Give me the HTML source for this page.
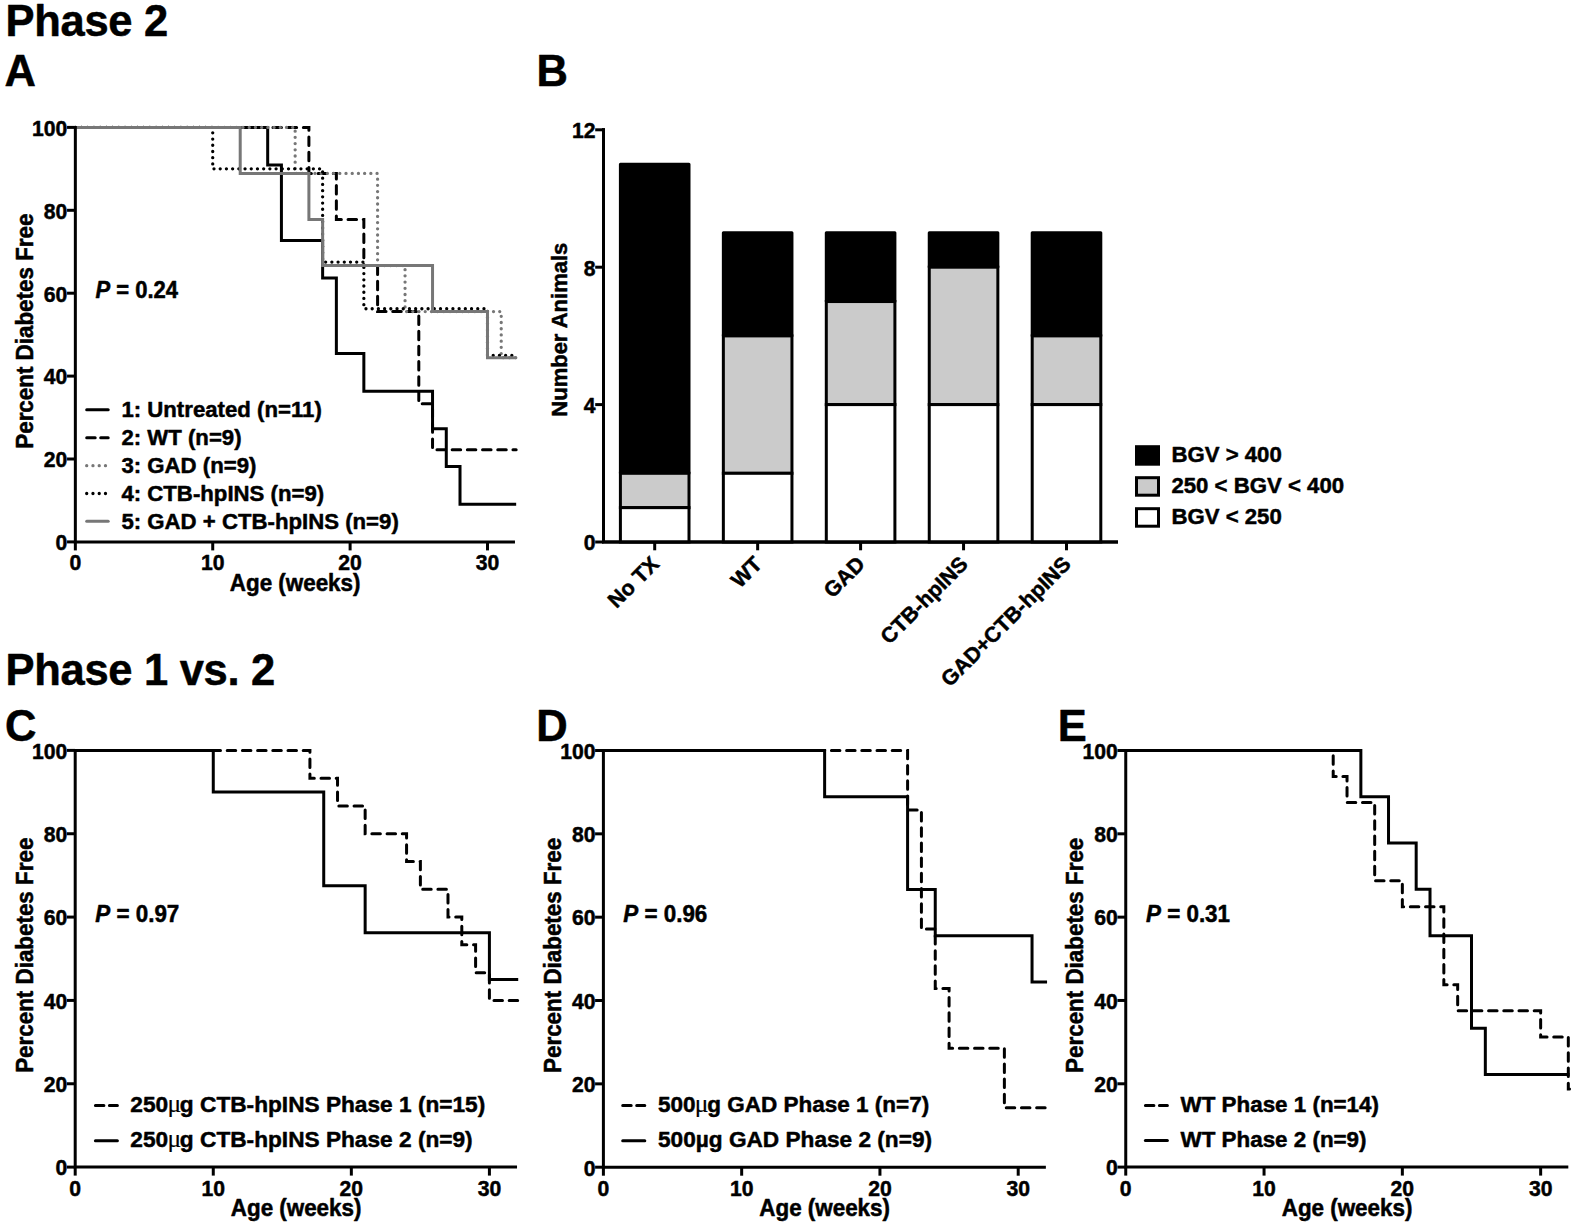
<!DOCTYPE html>
<html lang="en"><head><meta charset="utf-8"><title>Figure</title>
<style>
html,body{margin:0;padding:0;background:#fff;}
svg{display:block;}
svg text{font-family:"Liberation Sans", sans-serif;font-weight:bold;fill:#000;stroke:#000;stroke-width:0.5px;stroke-linejoin:round;}
</style></head>
<body>
<svg width="1575" height="1227" viewBox="0 0 1575 1227">
<rect x="0" y="0" width="1575" height="1227" fill="#fff"/>
<text x="5.6" y="36.2" font-size="43.5" text-anchor="start" letter-spacing="-0.3" stroke-width="0.6">Phase 2</text>
<text x="4.6" y="85.6" font-size="43.5" text-anchor="start" letter-spacing="-0.3" stroke-width="0.6">A</text>
<text x="536.6" y="85.6" font-size="43.5" text-anchor="start" letter-spacing="-0.3" stroke-width="0.6">B</text>
<text x="5.6" y="684.9" font-size="43.5" text-anchor="start" letter-spacing="-0.3" stroke-width="0.6">Phase 1 vs. 2</text>
<text x="5.0" y="741.3" font-size="43.5" text-anchor="start" letter-spacing="-0.3" stroke-width="0.6">C</text>
<text x="536.2" y="741.4" font-size="43.5" text-anchor="start" letter-spacing="-0.3" stroke-width="0.6">D</text>
<text x="1057.8" y="741.0" font-size="43.5" text-anchor="start" letter-spacing="-0.3" stroke-width="0.6">E</text>
<path d="M75.35,127.40 H267.68 V165.08 H281.42 V240.43 H322.63 V278.11 H336.37 V353.51 H363.85 V391.19 H432.54 V428.87 H446.28 V466.54 H460.01 V504.22 H516.17" fill="none" stroke="#000" stroke-width="3" stroke-linejoin="miter" />
<path d="M75.35,127.40 H308.90 V173.45 H336.37 V219.50 H363.85 V265.55 H377.59 V311.60 H418.80 V403.75 H432.54 V449.80 H516.17" fill="none" stroke="#000" stroke-width="3" stroke-linejoin="miter" stroke-dasharray="8.5 6.7" stroke-linecap="round"/>
<path d="M75.35,127.40 H295.16 V173.45 H377.59 V265.55 H405.06 V311.60 H501.23 V357.70 H516.17" fill="none" stroke="#777" stroke-width="3.3" stroke-linejoin="miter" stroke-dasharray="0.01 6.2" stroke-linecap="round"/>
<path d="M75.35,127.40 H212.73 V168.85 H322.63 V262.11 H363.85 V308.74 H487.49 V355.38 H516.17" fill="none" stroke="#000" stroke-width="3.3" stroke-linejoin="miter" stroke-dasharray="0.01 6.2" stroke-linecap="round"/>
<path d="M75.35,127.40 H240.21 V173.45 H308.90 V219.50 H322.63 V265.55 H432.54 V311.60 H487.49 V357.70 H516.17" fill="none" stroke="#777" stroke-width="3" stroke-linejoin="miter" />
<path d="M75.35,125.9 V541.9 H514.966" fill="none" stroke="#000" stroke-width="3" stroke-linejoin="miter"/>
<line x1="67.05" y1="541.90" x2="75.35" y2="541.90" stroke="#000" stroke-width="3"/>
<text transform="translate(67.35,550.20) scale(0.97,1.03)" font-size="21.8" text-anchor="end" stroke-width="0.4">0</text>
<line x1="67.05" y1="459.00" x2="75.35" y2="459.00" stroke="#000" stroke-width="3"/>
<text transform="translate(67.35,467.30) scale(0.97,1.03)" font-size="21.8" text-anchor="end" stroke-width="0.4">20</text>
<line x1="67.05" y1="376.10" x2="75.35" y2="376.10" stroke="#000" stroke-width="3"/>
<text transform="translate(67.35,384.40) scale(0.97,1.03)" font-size="21.8" text-anchor="end" stroke-width="0.4">40</text>
<line x1="67.05" y1="293.20" x2="75.35" y2="293.20" stroke="#000" stroke-width="3"/>
<text transform="translate(67.35,301.50) scale(0.97,1.03)" font-size="21.8" text-anchor="end" stroke-width="0.4">60</text>
<line x1="67.05" y1="210.30" x2="75.35" y2="210.30" stroke="#000" stroke-width="3"/>
<text transform="translate(67.35,218.60) scale(0.97,1.03)" font-size="21.8" text-anchor="end" stroke-width="0.4">80</text>
<line x1="67.05" y1="127.40" x2="75.35" y2="127.40" stroke="#000" stroke-width="3"/>
<text transform="translate(67.35,135.70) scale(0.97,1.03)" font-size="21.8" text-anchor="end" stroke-width="0.4">100</text>
<line x1="75.35" y1="541.9" x2="75.35" y2="550.4" stroke="#000" stroke-width="3"/>
<text transform="translate(75.35,570.4) scale(0.97,1.03)" font-size="21.8" text-anchor="middle" stroke-width="0.4">0</text>
<line x1="212.73" y1="541.9" x2="212.73" y2="550.4" stroke="#000" stroke-width="3"/>
<text transform="translate(212.73,570.4) scale(0.97,1.03)" font-size="21.8" text-anchor="middle" stroke-width="0.4">10</text>
<line x1="350.11" y1="541.9" x2="350.11" y2="550.4" stroke="#000" stroke-width="3"/>
<text transform="translate(350.11,570.4) scale(0.97,1.03)" font-size="21.8" text-anchor="middle" stroke-width="0.4">20</text>
<line x1="487.49" y1="541.9" x2="487.49" y2="550.4" stroke="#000" stroke-width="3"/>
<text transform="translate(487.49,570.4) scale(0.97,1.03)" font-size="21.8" text-anchor="middle" stroke-width="0.4">30</text>
<text transform="translate(295.16,591.0) scale(1,1.05)" font-size="22.4" text-anchor="middle" >Age (weeks)</text>
<text transform="translate(32.6,331.15) rotate(-90) scale(1,1.05)" font-size="22.4" text-anchor="middle">Percent Diabetes Free</text>
<line x1="86.7" y1="409.7" x2="108.2" y2="409.7" stroke="#000" stroke-width="3" stroke-linecap="round"/>
<text transform="translate(121.4,416.9) scale(1,0.98)" font-size="22.2" text-anchor="start" >1: Untreated (n=11)</text>
<line x1="86.7" y1="437.7" x2="108.2" y2="437.7" stroke="#000" stroke-width="3" stroke-dasharray="8.5 5.5" stroke-linecap="round"/>
<text transform="translate(121.4,444.9) scale(1,0.98)" font-size="22.2" text-anchor="start" >2: WT (n=9)</text>
<line x1="86.7" y1="465.7" x2="109.7" y2="465.7" stroke="#777" stroke-width="3.3" stroke-dasharray="0.01 6.25" stroke-linecap="round"/>
<text transform="translate(121.4,472.9) scale(1,0.98)" font-size="22.2" text-anchor="start" >3: GAD (n=9)</text>
<line x1="86.7" y1="493.5" x2="109.7" y2="493.5" stroke="#000" stroke-width="3.3" stroke-dasharray="0.01 6.25" stroke-linecap="round"/>
<text transform="translate(121.4,500.7) scale(1,0.98)" font-size="22.2" text-anchor="start" >4: CTB-hpINS (n=9)</text>
<line x1="86.7" y1="521.3" x2="108.2" y2="521.3" stroke="#777" stroke-width="3" stroke-linecap="round"/>
<text transform="translate(121.4,528.5) scale(1,0.98)" font-size="22.2" text-anchor="start" >5: GAD + CTB-hpINS (n=9)</text>
<text transform="translate(95.5,298.2) scale(1,1.05)" font-size="22" text-anchor="start" ><tspan font-style="italic">P</tspan> = 0.24</text>
<path d="M603.5,128.29999999999995 V542.0 H1118" fill="none" stroke="#000" stroke-width="3"/>
<line x1="595.2" y1="542.00" x2="603.5" y2="542.00" stroke="#000" stroke-width="3"/>
<text transform="translate(595.5,550.30) scale(0.97,1.03)" font-size="21.8" text-anchor="end" stroke-width="0.4">0</text>
<line x1="595.2" y1="404.60" x2="603.5" y2="404.60" stroke="#000" stroke-width="3"/>
<text transform="translate(595.5,412.90) scale(0.97,1.03)" font-size="21.8" text-anchor="end" stroke-width="0.4">4</text>
<line x1="595.2" y1="267.20" x2="603.5" y2="267.20" stroke="#000" stroke-width="3"/>
<text transform="translate(595.5,275.50) scale(0.97,1.03)" font-size="21.8" text-anchor="end" stroke-width="0.4">8</text>
<line x1="595.2" y1="129.80" x2="603.5" y2="129.80" stroke="#000" stroke-width="3"/>
<text transform="translate(595.5,138.10) scale(0.97,1.03)" font-size="21.8" text-anchor="end" stroke-width="0.4">12</text>
<text transform="translate(567.0,329.7) rotate(-90)" font-size="22" text-anchor="middle">Number Animals</text>
<rect x="620.40" y="164.15" width="68.6" height="309.15" fill="#000" stroke="#000" stroke-width="3" stroke-linejoin="round"/>
<rect x="620.40" y="473.30" width="68.6" height="34.35" fill="#cbcbcb" stroke="#000" stroke-width="3"/>
<rect x="620.40" y="507.65" width="68.6" height="34.35" fill="#fff" stroke="#000" stroke-width="3"/>
<line x1="654.70" y1="542.0" x2="654.70" y2="550.3" stroke="#000" stroke-width="3"/>
<text transform="translate(660.30,565.40) rotate(-45)" font-size="21.4" text-anchor="end">No TX</text>
<rect x="723.35" y="232.85" width="68.6" height="103.05" fill="#000" stroke="#000" stroke-width="3" stroke-linejoin="round"/>
<rect x="723.35" y="335.90" width="68.6" height="137.40" fill="#cbcbcb" stroke="#000" stroke-width="3"/>
<rect x="723.35" y="473.30" width="68.6" height="68.70" fill="#fff" stroke="#000" stroke-width="3"/>
<line x1="757.65" y1="542.0" x2="757.65" y2="550.3" stroke="#000" stroke-width="3"/>
<text transform="translate(763.25,565.40) rotate(-45)" font-size="21.4" text-anchor="end">WT</text>
<rect x="826.30" y="232.85" width="68.6" height="68.70" fill="#000" stroke="#000" stroke-width="3" stroke-linejoin="round"/>
<rect x="826.30" y="301.55" width="68.6" height="103.05" fill="#cbcbcb" stroke="#000" stroke-width="3"/>
<rect x="826.30" y="404.60" width="68.6" height="137.40" fill="#fff" stroke="#000" stroke-width="3"/>
<line x1="860.60" y1="542.0" x2="860.60" y2="550.3" stroke="#000" stroke-width="3"/>
<text transform="translate(866.20,565.40) rotate(-45)" font-size="21.4" text-anchor="end">GAD</text>
<rect x="929.25" y="232.85" width="68.6" height="34.35" fill="#000" stroke="#000" stroke-width="3" stroke-linejoin="round"/>
<rect x="929.25" y="267.20" width="68.6" height="137.40" fill="#cbcbcb" stroke="#000" stroke-width="3"/>
<rect x="929.25" y="404.60" width="68.6" height="137.40" fill="#fff" stroke="#000" stroke-width="3"/>
<line x1="963.55" y1="542.0" x2="963.55" y2="550.3" stroke="#000" stroke-width="3"/>
<text transform="translate(969.15,565.40) rotate(-45)" font-size="21.4" text-anchor="end">CTB-hpINS</text>
<rect x="1032.20" y="232.85" width="68.6" height="103.05" fill="#000" stroke="#000" stroke-width="3" stroke-linejoin="round"/>
<rect x="1032.20" y="335.90" width="68.6" height="68.70" fill="#cbcbcb" stroke="#000" stroke-width="3"/>
<rect x="1032.20" y="404.60" width="68.6" height="137.40" fill="#fff" stroke="#000" stroke-width="3"/>
<line x1="1066.50" y1="542.0" x2="1066.50" y2="550.3" stroke="#000" stroke-width="3"/>
<text transform="translate(1072.10,565.40) rotate(-45)" font-size="21.4" text-anchor="end">GAD+CTB-hpINS</text>
<path d="M603.5,128.29999999999995 V542.0 H1118" fill="none" stroke="#000" stroke-width="3"/>
<rect x="1136.5" y="446.70" width="22" height="17.5" fill="#000" stroke="#000" stroke-width="3"/>
<text transform="translate(1171.4,461.90) scale(1,0.98)" font-size="22.2" text-anchor="start" >BGV &gt; 400</text>
<rect x="1136.5" y="477.70" width="22" height="17.5" fill="#cbcbcb" stroke="#000" stroke-width="3"/>
<text transform="translate(1171.4,492.90) scale(1,0.98)" font-size="22.2" text-anchor="start" >250 &lt; BGV &lt; 400</text>
<rect x="1136.5" y="508.70" width="22" height="17.5" fill="#fff" stroke="#000" stroke-width="3"/>
<text transform="translate(1171.4,523.90) scale(1,0.98)" font-size="22.2" text-anchor="start" >BGV &lt; 250</text>
<path d="M75.20,750.40 H309.92 V778.19 H337.53 V805.95 H365.15 V833.74 H406.57 V861.53 H420.38 V889.29 H447.99 V917.08 H461.80 V944.87 H475.60 V972.63 H489.41 V1000.42 H518.22" fill="none" stroke="#000" stroke-width="3" stroke-linejoin="miter" stroke-dasharray="8.5 6.7" stroke-linecap="round"/>
<path d="M75.20,750.40 H213.27 V792.07 H323.73 V885.83 H365.15 V932.71 H489.41 V979.58 H518.22" fill="none" stroke="#000" stroke-width="3" stroke-linejoin="miter" />
<path d="M75.2,748.9 V1167.1 H517.024" fill="none" stroke="#000" stroke-width="3" stroke-linejoin="miter"/>
<line x1="66.9" y1="1167.10" x2="75.2" y2="1167.10" stroke="#000" stroke-width="3"/>
<text transform="translate(67.2,1175.40) scale(0.97,1.03)" font-size="21.8" text-anchor="end" stroke-width="0.4">0</text>
<line x1="66.9" y1="1083.76" x2="75.2" y2="1083.76" stroke="#000" stroke-width="3"/>
<text transform="translate(67.2,1092.06) scale(0.97,1.03)" font-size="21.8" text-anchor="end" stroke-width="0.4">20</text>
<line x1="66.9" y1="1000.42" x2="75.2" y2="1000.42" stroke="#000" stroke-width="3"/>
<text transform="translate(67.2,1008.72) scale(0.97,1.03)" font-size="21.8" text-anchor="end" stroke-width="0.4">40</text>
<line x1="66.9" y1="917.08" x2="75.2" y2="917.08" stroke="#000" stroke-width="3"/>
<text transform="translate(67.2,925.38) scale(0.97,1.03)" font-size="21.8" text-anchor="end" stroke-width="0.4">60</text>
<line x1="66.9" y1="833.74" x2="75.2" y2="833.74" stroke="#000" stroke-width="3"/>
<text transform="translate(67.2,842.04) scale(0.97,1.03)" font-size="21.8" text-anchor="end" stroke-width="0.4">80</text>
<line x1="66.9" y1="750.40" x2="75.2" y2="750.40" stroke="#000" stroke-width="3"/>
<text transform="translate(67.2,758.70) scale(0.97,1.03)" font-size="21.8" text-anchor="end" stroke-width="0.4">100</text>
<line x1="75.20" y1="1167.1" x2="75.20" y2="1175.6" stroke="#000" stroke-width="3"/>
<text transform="translate(75.20,1195.6) scale(0.97,1.03)" font-size="21.8" text-anchor="middle" stroke-width="0.4">0</text>
<line x1="213.27" y1="1167.1" x2="213.27" y2="1175.6" stroke="#000" stroke-width="3"/>
<text transform="translate(213.27,1195.6) scale(0.97,1.03)" font-size="21.8" text-anchor="middle" stroke-width="0.4">10</text>
<line x1="351.34" y1="1167.1" x2="351.34" y2="1175.6" stroke="#000" stroke-width="3"/>
<text transform="translate(351.34,1195.6) scale(0.97,1.03)" font-size="21.8" text-anchor="middle" stroke-width="0.4">20</text>
<line x1="489.41" y1="1167.1" x2="489.41" y2="1175.6" stroke="#000" stroke-width="3"/>
<text transform="translate(489.41,1195.6) scale(0.97,1.03)" font-size="21.8" text-anchor="middle" stroke-width="0.4">30</text>
<text transform="translate(296.11,1216.2) scale(1,1.05)" font-size="22.4" text-anchor="middle" >Age (weeks)</text>
<text transform="translate(32.6,955.25) rotate(-90) scale(1,1.05)" font-size="22.4" text-anchor="middle">Percent Diabetes Free</text>
<line x1="95.4" y1="1105.6" x2="117.4" y2="1105.6" stroke="#000" stroke-width="3" stroke-dasharray="8.5 5.5" stroke-linecap="round"/>
<text transform="translate(130.3,1112.0) scale(1,0.98)" font-size="22.68" text-anchor="start" >250<tspan dx="-0.7" font-family="'Liberation Serif', serif" font-weight="normal" font-size="25.5" stroke-width="0.2">μ</tspan><tspan dx="-1.2">g</tspan> CTB-hpINS Phase 1 (n=15)</text>
<line x1="95.4" y1="1140.7" x2="117.4" y2="1140.7" stroke="#000" stroke-width="3" stroke-linecap="round"/>
<text transform="translate(130.3,1147.0) scale(1,0.98)" font-size="22.68" text-anchor="start" >250<tspan dx="-0.7" font-family="'Liberation Serif', serif" font-weight="normal" font-size="25.5" stroke-width="0.2">μ</tspan><tspan dx="-1.2">g</tspan> CTB-hpINS Phase 2 (n=9)</text>
<text transform="translate(95.3,921.6) scale(1,1.05)" font-size="22.4" text-anchor="start" ><tspan font-style="italic">P</tspan> = 0.97</text>
<path d="M603.40,750.50 H907.59 V810.05 H921.42 V929.10 H935.25 V988.60 H949.08 V1048.15 H1004.38 V1107.65 H1047.06" fill="none" stroke="#000" stroke-width="3" stroke-linejoin="miter" stroke-dasharray="8.5 6.7" stroke-linecap="round"/>
<path d="M603.40,750.50 H824.63 V796.80 H907.59 V889.39 H935.25 V935.68 H1032.04 V982.02 H1047.06" fill="none" stroke="#000" stroke-width="3" stroke-linejoin="miter" />
<path d="M603.4,749.0 V1167.2 H1045.864" fill="none" stroke="#000" stroke-width="3" stroke-linejoin="miter"/>
<line x1="595.1" y1="1167.20" x2="603.4" y2="1167.20" stroke="#000" stroke-width="3"/>
<text transform="translate(595.4,1175.50) scale(0.97,1.03)" font-size="21.8" text-anchor="end" stroke-width="0.4">0</text>
<line x1="595.1" y1="1083.86" x2="603.4" y2="1083.86" stroke="#000" stroke-width="3"/>
<text transform="translate(595.4,1092.16) scale(0.97,1.03)" font-size="21.8" text-anchor="end" stroke-width="0.4">20</text>
<line x1="595.1" y1="1000.52" x2="603.4" y2="1000.52" stroke="#000" stroke-width="3"/>
<text transform="translate(595.4,1008.82) scale(0.97,1.03)" font-size="21.8" text-anchor="end" stroke-width="0.4">40</text>
<line x1="595.1" y1="917.18" x2="603.4" y2="917.18" stroke="#000" stroke-width="3"/>
<text transform="translate(595.4,925.48) scale(0.97,1.03)" font-size="21.8" text-anchor="end" stroke-width="0.4">60</text>
<line x1="595.1" y1="833.84" x2="603.4" y2="833.84" stroke="#000" stroke-width="3"/>
<text transform="translate(595.4,842.14) scale(0.97,1.03)" font-size="21.8" text-anchor="end" stroke-width="0.4">80</text>
<line x1="595.1" y1="750.50" x2="603.4" y2="750.50" stroke="#000" stroke-width="3"/>
<text transform="translate(595.4,758.80) scale(0.97,1.03)" font-size="21.8" text-anchor="end" stroke-width="0.4">100</text>
<line x1="603.40" y1="1167.2" x2="603.40" y2="1175.7" stroke="#000" stroke-width="3"/>
<text transform="translate(603.40,1195.6) scale(0.97,1.03)" font-size="21.8" text-anchor="middle" stroke-width="0.4">0</text>
<line x1="741.67" y1="1167.2" x2="741.67" y2="1175.7" stroke="#000" stroke-width="3"/>
<text transform="translate(741.67,1195.6) scale(0.97,1.03)" font-size="21.8" text-anchor="middle" stroke-width="0.4">10</text>
<line x1="879.94" y1="1167.2" x2="879.94" y2="1175.7" stroke="#000" stroke-width="3"/>
<text transform="translate(879.94,1195.6) scale(0.97,1.03)" font-size="21.8" text-anchor="middle" stroke-width="0.4">20</text>
<line x1="1018.21" y1="1167.2" x2="1018.21" y2="1175.7" stroke="#000" stroke-width="3"/>
<text transform="translate(1018.21,1195.6) scale(0.97,1.03)" font-size="21.8" text-anchor="middle" stroke-width="0.4">30</text>
<text transform="translate(824.63,1216.2) scale(1,1.05)" font-size="22.4" text-anchor="middle" >Age (weeks)</text>
<text transform="translate(560.5,955.35) rotate(-90) scale(1,1.05)" font-size="22.4" text-anchor="middle">Percent Diabetes Free</text>
<line x1="622.7" y1="1105.6" x2="644.8" y2="1105.6" stroke="#000" stroke-width="3" stroke-dasharray="8.5 5.5" stroke-linecap="round"/>
<text transform="translate(658.0,1112.0) scale(1,0.98)" font-size="22.5" text-anchor="start" >500<tspan dx="-0.7" font-family="'Liberation Serif', serif" font-weight="normal" font-size="25.5" stroke-width="0.2">μ</tspan><tspan dx="-1.2">g</tspan> GAD Phase 1 (n=7)</text>
<line x1="622.7" y1="1140.7" x2="644.8" y2="1140.7" stroke="#000" stroke-width="3" stroke-linecap="round"/>
<text transform="translate(658.0,1147.3) scale(1,0.98)" font-size="22.65" text-anchor="start" >500µg GAD Phase 2 (n=9)</text>
<text transform="translate(623.3,921.6) scale(1,1.05)" font-size="22.4" text-anchor="start" ><tspan font-style="italic">P</tspan> = 0.96</text>
<path d="M1125.75,750.50 H1333.20 V776.54 H1347.03 V802.57 H1374.69 V880.69 H1402.35 V906.72 H1443.84 V984.84 H1457.67 V1010.87 H1540.65 V1036.91 H1568.31 V1088.99 H1569.51" fill="none" stroke="#000" stroke-width="3" stroke-linejoin="miter" stroke-dasharray="8.5 6.7" stroke-linecap="round"/>
<path d="M1125.75,750.50 H1360.86 V796.78 H1388.52 V843.07 H1416.18 V889.35 H1430.01 V935.64 H1471.50 V1028.25 H1485.33 V1074.53 H1569.51" fill="none" stroke="#000" stroke-width="3" stroke-linejoin="miter" />
<path d="M1125.75,749.0 V1167.1 H1568.31" fill="none" stroke="#000" stroke-width="3" stroke-linejoin="miter"/>
<line x1="1117.45" y1="1167.10" x2="1125.75" y2="1167.10" stroke="#000" stroke-width="3"/>
<text transform="translate(1117.75,1175.40) scale(0.97,1.03)" font-size="21.8" text-anchor="end" stroke-width="0.4">0</text>
<line x1="1117.45" y1="1083.78" x2="1125.75" y2="1083.78" stroke="#000" stroke-width="3"/>
<text transform="translate(1117.75,1092.08) scale(0.97,1.03)" font-size="21.8" text-anchor="end" stroke-width="0.4">20</text>
<line x1="1117.45" y1="1000.46" x2="1125.75" y2="1000.46" stroke="#000" stroke-width="3"/>
<text transform="translate(1117.75,1008.76) scale(0.97,1.03)" font-size="21.8" text-anchor="end" stroke-width="0.4">40</text>
<line x1="1117.45" y1="917.14" x2="1125.75" y2="917.14" stroke="#000" stroke-width="3"/>
<text transform="translate(1117.75,925.44) scale(0.97,1.03)" font-size="21.8" text-anchor="end" stroke-width="0.4">60</text>
<line x1="1117.45" y1="833.82" x2="1125.75" y2="833.82" stroke="#000" stroke-width="3"/>
<text transform="translate(1117.75,842.12) scale(0.97,1.03)" font-size="21.8" text-anchor="end" stroke-width="0.4">80</text>
<line x1="1117.45" y1="750.50" x2="1125.75" y2="750.50" stroke="#000" stroke-width="3"/>
<text transform="translate(1117.75,758.80) scale(0.97,1.03)" font-size="21.8" text-anchor="end" stroke-width="0.4">100</text>
<line x1="1125.75" y1="1167.1" x2="1125.75" y2="1175.6" stroke="#000" stroke-width="3"/>
<text transform="translate(1125.75,1195.6) scale(0.97,1.03)" font-size="21.8" text-anchor="middle" stroke-width="0.4">0</text>
<line x1="1264.05" y1="1167.1" x2="1264.05" y2="1175.6" stroke="#000" stroke-width="3"/>
<text transform="translate(1264.05,1195.6) scale(0.97,1.03)" font-size="21.8" text-anchor="middle" stroke-width="0.4">10</text>
<line x1="1402.35" y1="1167.1" x2="1402.35" y2="1175.6" stroke="#000" stroke-width="3"/>
<text transform="translate(1402.35,1195.6) scale(0.97,1.03)" font-size="21.8" text-anchor="middle" stroke-width="0.4">20</text>
<line x1="1540.65" y1="1167.1" x2="1540.65" y2="1175.6" stroke="#000" stroke-width="3"/>
<text transform="translate(1540.65,1195.6) scale(0.97,1.03)" font-size="21.8" text-anchor="middle" stroke-width="0.4">30</text>
<text transform="translate(1347.03,1216.2) scale(1,1.05)" font-size="22.4" text-anchor="middle" >Age (weeks)</text>
<text transform="translate(1083,955.30) rotate(-90) scale(1,1.05)" font-size="22.4" text-anchor="middle">Percent Diabetes Free</text>
<line x1="1145.4" y1="1105.4" x2="1167.4" y2="1105.4" stroke="#000" stroke-width="3" stroke-dasharray="8.5 5.5" stroke-linecap="round"/>
<text transform="translate(1180.6,1112.0) scale(1,0.98)" font-size="22.4" text-anchor="start" >WT Phase 1 (n=14)</text>
<line x1="1145.4" y1="1140.5" x2="1167.4" y2="1140.5" stroke="#000" stroke-width="3" stroke-linecap="round"/>
<text transform="translate(1180.6,1147.2) scale(1,0.98)" font-size="22.4" text-anchor="start" >WT Phase 2 (n=9)</text>
<text transform="translate(1146,921.6) scale(1,1.05)" font-size="22.4" text-anchor="start" ><tspan font-style="italic">P</tspan> = 0.31</text>
</svg>
</body></html>
